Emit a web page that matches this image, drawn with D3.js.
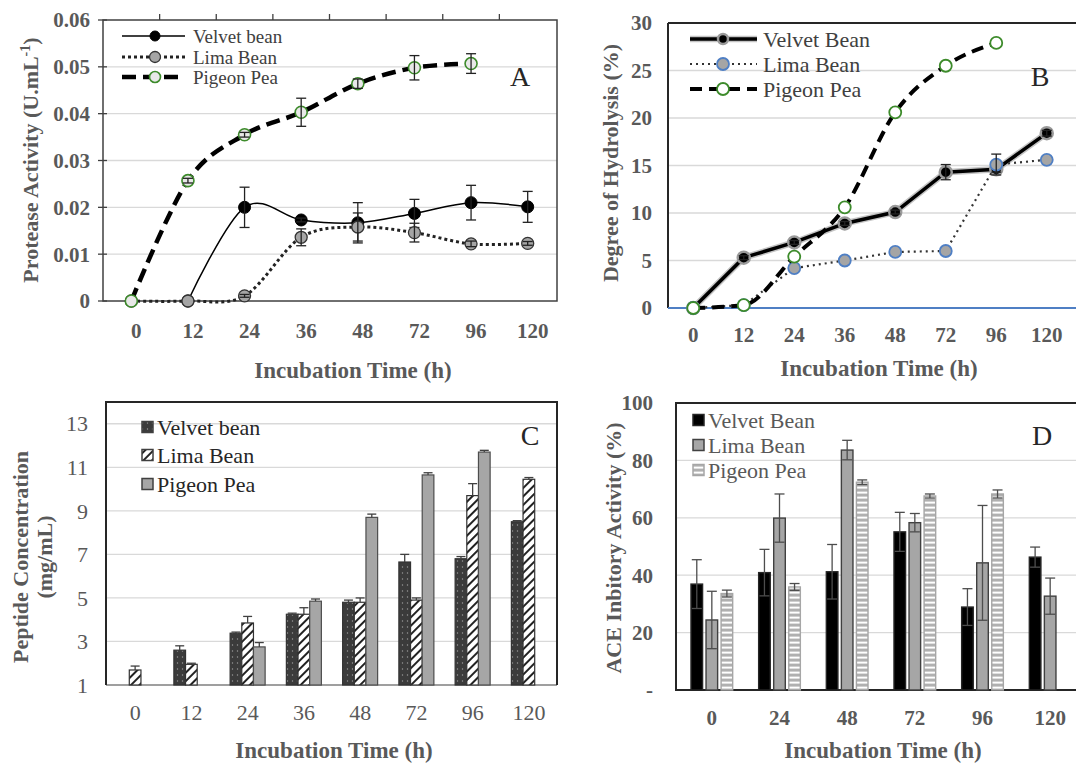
<!DOCTYPE html>
<html>
<head>
<meta charset="utf-8">
<script src="https://cdn.jsdelivr.net/npm/d3@7/dist/d3.min.js"></script>
<style>
body { margin: 0; background: #fff; }
svg { font-family: "Liberation Serif", "Times New Roman", serif; }
</style>
</head>
<body>
<svg id="fig" width="1076" height="763"></svg>
<script>
// incubation times (h)
var times = ["0", "12", "24", "36", "48", "72", "96", "120"];
var timesD = ["0", "24", "48", "72", "96", "120"];

// A: protease activity (U/mL)
var protVelvet = [null, 0, 0.0200, 0.0173, 0.0167, 0.0187, 0.0210, 0.0201];
var protVelvetErr = [null, 0, 0.0043, 0.0004, 0.0043, 0.0030, 0.0037, 0.0033];
var protLima = [0, 0, 0.0011, 0.0136, 0.0158, 0.0146, 0.0122, 0.0123];
var protLimaErr = [0, 0, 0.0003, 0.0018, 0.0030, 0.0020, 0.0006, 0.0004];
var protPigeon = [0, 0.0257, 0.0355, 0.0403, 0.0464, 0.0498, 0.0507, null];
var protPigeonErr = [0, 0.0005, 0.0005, 0.0030, 0.0010, 0.0026, 0.0021, null];

// B: degree of hydrolysis (%)
var dhVelvet = [0, 5.3, 6.9, 8.9, 10.1, 14.3, 14.6, 18.4];
var dhVelvetErr = [0, 0.2, 0.2, 0.2, 0.2, 0.8, 0.3, 0.3];
var dhLima = [0, 0.3, 4.2, 5.0, 5.9, 6.0, 15.1, 15.6];
var dhLimaErr = [0, 0, 0, 0, 0, 0, 1.1, 0];
var dhPigeon = [0, 0.3, 5.4, 10.6, 20.6, 25.5, 27.9, null];

// C: peptide concentration (mg/mL)
var pepVelvet = [null, 2.6, 3.38, 4.25, 4.8, 6.65, 6.8, 8.5];
var pepVelvetErr = [null, 0.2, 0.05, 0.05, 0.1, 0.35, 0.1, 0.05];
var pepLima = [1.69, 1.95, 3.85, 4.25, 4.8, 4.9, 9.7, 10.45];
var pepLimaErr = [0.18, 0.05, 0.3, 0.3, 0.2, 0.1, 0.55, 0.08];
var pepPigeon = [null, null, 2.75, 4.85, 8.7, 10.65, 11.7, null];
var pepPigeonErr = [null, null, 0.2, 0.1, 0.15, 0.1, 0.08, null];

// D: ACE inhibitory activity (%)
var aceVelvet = [36.9, 40.9, 41.2, 55.1, 28.9, 46.3];
var aceVelvetErr = [8.5, 8.1, 9.5, 6.8, 6.4, 3.5];
var aceLima = [24.4, 59.9, 83.6, 58.3, 44.3, 32.7];
var aceLimaErr = [10, 8.4, 3.4, 3.2, 20, 6.3];
var acePigeon = [33.6, 35.9, 72.4, 67.6, 68.3, null];
var acePigeonErr = [1.2, 1.2, 0.8, 0.7, 1.4, null];

var ticksA = [0, 0.01, 0.02, 0.03, 0.04, 0.05, 0.06];
var ticksB = [0, 5, 10, 15, 20, 25, 30];
var ticksC = [1, 3, 5, 7, 9, 11, 13];
var ticksD = [0, 20, 40, 60, 80, 100];

var labelGray = "#595959";
var gridGray = "#d9d9d9";
var green = "#3d8b2b";
var blue = "#4f7fc4";

var svg = d3.select("#fig");
var defs = svg.append("defs");

var dots = defs.append("pattern").attr("id", "dots").attr("patternUnits", "userSpaceOnUse")
    .attr("width", 5).attr("height", 6);
dots.append("rect").attr("width", 5).attr("height", 6).attr("fill", "#3b3b3b");
dots.append("circle").attr("cx", 2.5).attr("cy", 3).attr("r", 0.7).attr("fill", "#9a9a9a");

var hatch = defs.append("pattern").attr("id", "hatch").attr("patternUnits", "userSpaceOnUse")
    .attr("width", 6).attr("height", 6).attr("patternTransform", "rotate(45)");
hatch.append("rect").attr("width", 6).attr("height", 6).attr("fill", "#fff");
hatch.append("line").attr("x1", 1).attr("y1", 0).attr("x2", 1).attr("y2", 6)
    .attr("stroke", "#222").attr("stroke-width", 2);

var stripes = defs.append("pattern").attr("id", "stripes").attr("patternUnits", "userSpaceOnUse")
    .attr("width", 4).attr("height", 5);
stripes.append("rect").attr("width", 4).attr("height", 5).attr("fill", "#b0b0b0");
stripes.append("rect").attr("y", 1.6).attr("width", 4).attr("height", 2).attr("fill", "#fff");

function text(g, x, y, s, size, weight, anchor, color) {
    return g.append("text")
        .attr("x", x).attr("y", y).attr("dy", "0.35em")
        .attr("text-anchor", anchor || "start")
        .style("font-size", size + "px")
        .style("font-weight", weight || "normal")
        .attr("fill", color || "#404040")
        .text(s);
}

function vtext(g, x, y, s, size) {
    return g.append("text")
        .attr("transform", "translate(" + x + "," + y + ") rotate(-90)")
        .attr("text-anchor", "middle").attr("dy", "0.35em")
        .style("font-size", size + "px").style("font-weight", "bold")
        .attr("fill", labelGray)
        .text(s);
}

function grid(g, y, ticks, x0, x1) {
    g.selectAll(null).data(ticks).enter().append("line")
        .attr("x1", x0).attr("x2", x1)
        .attr("y1", function(d) { return y(d); })
        .attr("y2", function(d) { return y(d); })
        .attr("stroke", gridGray).attr("stroke-width", 1.3);
}

function yLabels(g, y, ticks, xr, size, weight, fmt) {
    g.selectAll(null).data(ticks).enter().append("text")
        .attr("x", xr).attr("y", function(d) { return y(d); }).attr("dy", "0.35em")
        .attr("text-anchor", "end")
        .style("font-size", size + "px").style("font-weight", weight)
        .attr("fill", labelGray)
        .text(fmt);
}

function xLabels(g, x, cats, yy, size, weight, dx) {
    g.selectAll(null).data(cats).enter().append("text")
        .attr("x", function(d) { return x(d) + x.bandwidth() / 2 + dx; })
        .attr("y", yy).attr("dy", "0.35em")
        .attr("text-anchor", "middle")
        .style("font-size", size + "px").style("font-weight", weight)
        .attr("fill", labelGray)
        .text(function(d) { return d; });
}

function toPoints(cats, vals, errs) {
    return cats.map(function(c, i) {
        return { t: c, v: vals[i], e: errs ? errs[i] : 0 };
    });
}

function errBars(g, pts, x, y, color, cap, both) {
    var pe = pts.filter(function(p) { return p.v != null && p.e > 0; });
    var cx = function(p) { return x(p.t) + x.bandwidth() / 2; };
    g.selectAll(null).data(pe).enter().append("line")
        .attr("x1", cx).attr("x2", cx)
        .attr("y1", function(p) { return y(both ? p.v - p.e : p.v); })
        .attr("y2", function(p) { return y(p.v + p.e); })
        .attr("stroke", color).attr("stroke-width", 1.3);
    g.selectAll(null).data(pe).enter().append("line")
        .attr("x1", function(p) { return cx(p) - cap / 2; })
        .attr("x2", function(p) { return cx(p) + cap / 2; })
        .attr("y1", function(p) { return y(p.v + p.e); })
        .attr("y2", function(p) { return y(p.v + p.e); })
        .attr("stroke", color).attr("stroke-width", 1.3);
    if (both) {
        g.selectAll(null).data(pe).enter().append("line")
            .attr("x1", function(p) { return cx(p) - cap / 2; })
            .attr("x2", function(p) { return cx(p) + cap / 2; })
            .attr("y1", function(p) { return y(p.v - p.e); })
            .attr("y2", function(p) { return y(p.v - p.e); })
            .attr("stroke", color).attr("stroke-width", 1.3);
    }
}

function drawSeries(g, s, x, y) {
    var pts = toPoints(times, s.vals, s.errs);
    var line = d3.line()
        .defined(function(p) { return p.v != null; })
        .x(function(p) { return x(p.t) + x.bandwidth() / 2; })
        .y(function(p) { return y(p.v); })
        .curve(s.curve);
    if (s.glow) {
        g.append("path").attr("d", line(pts)).attr("fill", "none")
            .attr("stroke", s.glow).attr("stroke-width", s.width + 3).attr("stroke-opacity", 0.8);
    }
    g.append("path").attr("d", line(pts)).attr("fill", "none")
        .attr("stroke", s.stroke).attr("stroke-width", s.width)
        .attr("stroke-dasharray", s.dash);
    var real = pts.filter(function(p) { return p.v != null; });
    g.selectAll(null).data(real).enter().append("circle")
        .attr("cx", function(p) { return x(p.t) + x.bandwidth() / 2; })
        .attr("cy", function(p) { return y(p.v); })
        .attr("r", 6)
        .attr("fill", s.fill).attr("stroke", s.mstroke).attr("stroke-width", s.mwidth);
    errBars(g, pts, x, y, "#222", 10, true);
}

function lineLegend(g, s, x0, x1, xm, xt, yy, size) {
    if (s.glow) {
        g.append("line").attr("x1", x0).attr("x2", x1).attr("y1", yy).attr("y2", yy)
            .attr("stroke", s.glow).attr("stroke-width", s.width + 3).attr("stroke-opacity", 0.8);
    }
    g.append("line").attr("x1", x0).attr("x2", x1).attr("y1", yy).attr("y2", yy)
        .attr("stroke", s.stroke).attr("stroke-width", s.width).attr("stroke-dasharray", s.dash);
    g.append("circle").attr("cx", xm).attr("cy", yy).attr("r", s.legR)
        .attr("fill", s.fill).attr("stroke", s.mstroke).attr("stroke-width", s.mwidth);
    text(g, xt, yy, s.name, size, "normal", "start", "#404040");
}

// ---------------- Panel A ----------------
(function() {
    var L = 103, R = 557, T = 20, B = 301;
    var g = svg.append("g");
    var x = d3.scaleBand().domain(times).range([L, R - 1]);
    var y = d3.scaleLinear().domain([0, 0.06]).range([B, T]);

    grid(g, y, ticksA.slice(1, 6), L, R);
    g.append("rect").attr("x", L).attr("y", T).attr("width", R - L).attr("height", B - T)
        .attr("fill", "none").attr("stroke", "#404040").attr("stroke-width", 1.5);
    // ticks on left axis and top edge
    g.selectAll(null).data(ticksA).enter().append("line")
        .attr("x1", L - 5).attr("x2", L + 4)
        .attr("y1", function(d) { return y(d); }).attr("y2", function(d) { return y(d); })
        .attr("stroke", "#404040").attr("stroke-width", 1.3);
    g.selectAll(null).data(times.slice(1)).enter().append("line")
        .attr("x1", function(d) { return x(d); }).attr("x2", function(d) { return x(d); })
        .attr("y1", T - 6).attr("y2", T)
        .attr("stroke", "#404040").attr("stroke-width", 1.3);

    yLabels(g, y, ticksA, 90, 21, "bold", function(d) { return d === 0 ? "0" : d3.format(".2f")(d); });
    xLabels(g, x, times, 331, 21, "bold", 5);

    var series = [
        { name: "Velvet bean", vals: protVelvet, errs: protVelvetErr, curve: d3.curveCardinal,
          stroke: "#000", width: 1.5, dash: null, fill: "#000", mstroke: "#000", mwidth: 1, legR: 5 },
        { name: "Lima Bean", vals: protLima, errs: protLimaErr, curve: d3.curveCardinal,
          stroke: "#222", width: 3, dash: "3 3", fill: "#a5a5a5", mstroke: "#333", mwidth: 1.3, legR: 5.5 },
        { name: "Pigeon Pea", vals: protPigeon, errs: protPigeonErr, curve: d3.curveCardinal,
          stroke: "#000", width: 4.5, dash: "14 7", fill: "#e8e8e8", mstroke: green, mwidth: 1.6, legR: 5.5 }
    ];
    series.forEach(function(s) { drawSeries(g, s, x, y); });

    var rows = [36, 57, 77];
    series.forEach(function(s, i) { lineLegend(g, s, 122, 185, 155, 193, rows[i], 19); });

    text(g, 520, 76, "A", 28, "normal", "middle", "#262626");
    var yt = vtext(g, 30, 160, "Protease Activity (U.mL", 22);
    yt.append("tspan").attr("dy", -8).style("font-size", "14px").text("-1");
    yt.append("tspan").attr("dy", 8).text(")");
    text(g, 353, 370, "Incubation Time (h)", 23, "bold", "middle", labelGray);
})();

// ---------------- Panel B ----------------
(function() {
    var L = 668, R = 1076, T = 23, B = 308;
    var g = svg.append("g");
    var x = d3.scaleBand().domain(times).range([L, 1072]);
    var y = d3.scaleLinear().domain([0, 30]).range([B, T]);

    grid(g, y, ticksB.slice(1, 6), L, R);
    g.append("line").attr("x1", L).attr("x2", R).attr("y1", T).attr("y2", T)
        .attr("stroke", "#262626").attr("stroke-width", 2);
    g.append("line").attr("x1", L).attr("x2", L).attr("y1", T).attr("y2", B)
        .attr("stroke", "#262626").attr("stroke-width", 2);
    g.append("line").attr("x1", L).attr("x2", R).attr("y1", B).attr("y2", B)
        .attr("stroke", blue).attr("stroke-width", 2);

    yLabels(g, y, ticksB, 652, 21, "bold", function(d) { return d; });
    xLabels(g, x, times, 335, 21, "bold", 0);

    var series = [
        { name: "Velvet Bean", vals: dhVelvet, errs: dhVelvetErr, curve: d3.curveLinear, glow: "#b5b5b5",
          stroke: "#000", width: 3.5, dash: null, fill: "#000", mstroke: "#9a9a9a", mwidth: 2.5, legR: 5 },
        { name: "Lima Bean", vals: dhLima, errs: dhLimaErr, curve: d3.curveLinear,
          stroke: "#333", width: 2.2, dash: "2 4", fill: "#a5a5a5", mstroke: blue, mwidth: 1.8, legR: 6 },
        { name: "Pigeon Pea", vals: dhPigeon, errs: null, curve: d3.curveMonotoneX,
          stroke: "#000", width: 4, dash: "12 7", fill: "#fff", mstroke: green, mwidth: 1.8, legR: 6 }
    ];
    series.forEach(function(s) { drawSeries(g, s, x, y); });

    var rows = [39, 64, 89];
    series.forEach(function(s, i) { lineLegend(g, s, 690, 757, 723, 763, rows[i], 22); });

    text(g, 1040, 76, "B", 28, "normal", "middle", "#262626");
    vtext(g, 610, 163, "Degree of Hydrolysis (%)", 22);
    text(g, 879, 368, "Incubation Time (h)", 23, "bold", "middle", labelGray);
})();

// ---------------- Panel C ----------------
(function() {
    var L = 106, R = 557, T = 402, B = 685;
    var g = svg.append("g");
    var x = d3.scaleBand().domain(times).range([107, 557]);
    var y = d3.scaleLinear().domain([1, 14]).range([B, T]);
    var names = ["Velvet bean", "Lima Bean", "Pigeon Pea"];
    var x1 = d3.scaleBand().domain(names).range([-17.5, 17.5]);

    grid(g, y, ticksC.slice(1), L, R);
    g.append("line").attr("x1", L).attr("x2", R).attr("y1", B).attr("y2", B)
        .attr("stroke", "#7f7f7f").attr("stroke-width", 1.5);
    g.append("path").attr("d", "M" + L + "," + B + "V" + T + "H" + R + "V" + B)
        .attr("fill", "none").attr("stroke", "#262626").attr("stroke-width", 2);

    yLabels(g, y, ticksC, 88, 22, "normal", function(d) { return d; });
    xLabels(g, x, times, 712, 22, "normal", 0);

    var series = [
        { name: names[0], vals: pepVelvet, errs: pepVelvetErr, fill: "url(#dots)", stroke: "#333" },
        { name: names[1], vals: pepLima, errs: pepLimaErr, fill: "url(#hatch)", stroke: "#333" },
        { name: names[2], vals: pepPigeon, errs: pepPigeonErr, fill: "#a6a6a6", stroke: "#4d4d4d" }
    ];
    series.forEach(function(s) {
        var pts = toPoints(times, s.vals, s.errs).filter(function(p) { return p.v != null; });
        var bx = function(p) { return x(p.t) + x.bandwidth() / 2 + x1(s.name); };
        g.selectAll(null).data(pts).enter().append("rect")
            .attr("x", bx).attr("width", x1.bandwidth())
            .attr("y", function(p) { return y(p.v); })
            .attr("height", function(p) { return B - y(p.v); })
            .attr("fill", s.fill).attr("stroke", s.stroke).attr("stroke-width", 1.2);
        var ex = d3.scaleBand().domain(times).range([107 + x1(s.name) + x1.bandwidth() / 2,
                                                      557 + x1(s.name) + x1.bandwidth() / 2]);
        errBars(g, pts, ex, y, "#404040", 9, false);
    });

    var rows = [427, 455, 484];
    series.forEach(function(s, i) {
        g.append("rect").attr("x", 142).attr("y", rows[i] - 5.5).attr("width", 11).attr("height", 11)
            .attr("fill", s.fill).attr("stroke", "#404040").attr("stroke-width", 1.5);
        text(g, 157, rows[i], s.name, 22, "normal", "start", "#262626");
    });

    text(g, 530, 435, "C", 28, "normal", "middle", "#262626");
    vtext(g, 20, 557, "Peptide Concentration", 22);
    vtext(g, 44, 557, "(mg/mL)", 22);
    text(g, 334, 750, "Incubation Time (h)", 23, "bold", "middle", labelGray);
})();

// ---------------- Panel D ----------------
(function() {
    var L = 676, R = 1076, T = 403, B = 690;
    var g = svg.append("g");
    var x = d3.scaleBand().domain(timesD).range([678, 1084]);
    var y = d3.scaleLinear().domain([0, 100]).range([B, T]);
    var names = ["Velvet Bean", "Lima Bean", "Pigeon Pea"];
    var x1 = d3.scaleBand().domain(names).range([-22.5, 22.5]).paddingInner(0.23).paddingOuter(0.11);

    grid(g, y, ticksD.slice(1, 5), L, R);
    g.append("path").attr("d", "M" + R + "," + T + "H" + L + "V" + B + "H" + R)
        .attr("fill", "none").attr("stroke", "#262626").attr("stroke-width", 2);

    yLabels(g, y, ticksD, 653, 21, "bold", function(d) { return d === 0 ? "-" : d; });
    xLabels(g, x, timesD, 718, 21, "bold", 0);

    var series = [
        { name: names[0], vals: aceVelvet, errs: aceVelvetErr, fill: "#000", stroke: "#262626" },
        { name: names[1], vals: aceLima, errs: aceLimaErr, fill: "#a6a6a6", stroke: "#404040" },
        { name: names[2], vals: acePigeon, errs: acePigeonErr, fill: "url(#stripes)", stroke: "#a6a6a6" }
    ];
    series.forEach(function(s) {
        var pts = toPoints(timesD, s.vals, s.errs).filter(function(p) { return p.v != null; });
        g.selectAll(null).data(pts).enter().append("rect")
            .attr("x", function(p) { return x(p.t) + x.bandwidth() / 2 + x1(s.name); })
            .attr("width", x1.bandwidth())
            .attr("y", function(p) { return y(p.v); })
            .attr("height", function(p) { return B - y(p.v); })
            .attr("fill", s.fill).attr("stroke", s.stroke).attr("stroke-width", 1.4);
        var off = x1(s.name) + x1.bandwidth() / 2;
        var ex = d3.scaleBand().domain(timesD).range([678 + off, 1084 + off]);
        errBars(g, pts, ex, y, "#4d4d4d", 10, true);
    });

    var rows = [420, 445, 470];
    series.forEach(function(s, i) {
        g.append("rect").attr("x", 693).attr("y", rows[i] - 5.5).attr("width", 11).attr("height", 11)
            .attr("fill", s.fill).attr("stroke", s.stroke).attr("stroke-width", 1.5);
        text(g, 708, rows[i], s.name, 22, "normal", "start", labelGray);
    });

    text(g, 1042, 435, "D", 28, "normal", "middle", "#262626");
    vtext(g, 613, 548, "ACE Inbitory Activity (%)", 22);
    text(g, 883, 750, "Incubation Time (h)", 23, "bold", "middle", labelGray);
})();
</script>
</body>
</html>
